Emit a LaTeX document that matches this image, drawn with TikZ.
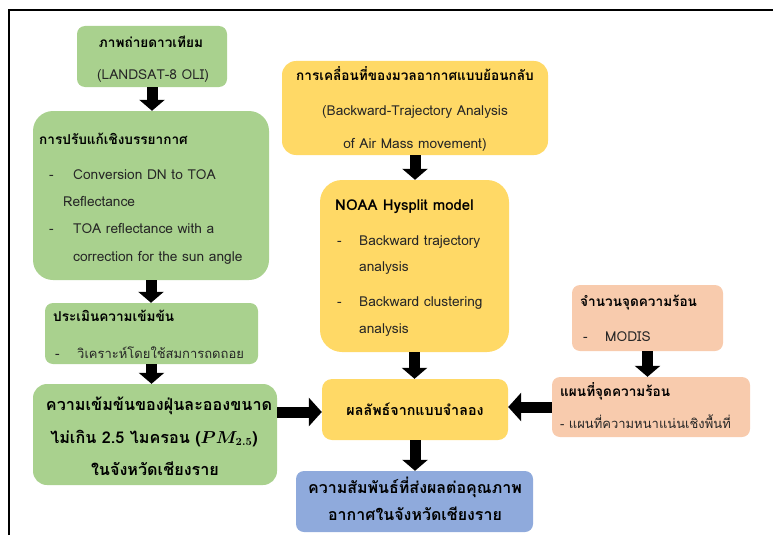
\documentclass[tikz,border=0pt]{standalone}
\usepackage{fontspec}
\usepackage{bm}
\setmainfont{Loma}[Script=Thai]
\usetikzlibrary{arrows.meta}
\definecolor{gfill}{HTML}{A9D18E}
\definecolor{yfill}{HTML}{FFD966}
\definecolor{ofill}{HTML}{F8CBAD}
\definecolor{bfill}{HTML}{8FAADC}
\definecolor{txtc}{HTML}{262626}
\tikzset{
  box/.style={rectangle, draw=none, inner sep=0pt},
  gbox/.style={box, fill=gfill},
  ybox/.style={box, fill=yfill},
  obox/.style={box, fill=ofill},
  bbox/.style={box, fill=bfill},
  txt/.style={inner sep=0pt, text height=1.2ex, text depth=0pt, text=txtc, font=\fontsize{13.7}{16}\selectfont},
  thtxt/.style={txt, font=\fontsize{13}{16}\selectfont},
  hd/.style={txt, text=black, font=\fontsize{13.6}{16}\selectfont\bfseries},
  big/.style={txt, text=black, font=\fontsize{16.2}{19}\selectfont\bfseries},
  barrowv/.style={line width=11pt, -{Triangle[length=11pt,width=25pt]}},
  barrowh/.style={line width=11pt, -{Triangle[length=13pt,width=28pt]}},
}
\begin{document}
\begin{tikzpicture}[x=1pt,y=-1pt]
\useasboundingbox (0,0) rectangle (773,535);
% frame
\draw[line width=1.6pt] (9,535) -- (9,10) -- (773,10);
% green column
\node[gbox, rounded corners=8pt, minimum width=150pt, minimum height=61pt] (b1) at (152,56.5) {};
\node[hd, anchor=center] (b1t) at (151,44) {ภาพถ่ายดาวเทียม};
\node[txt, anchor=center] (b1s) at (153,76) {(LANDSAT-8 OLI)};
\node[gbox, rounded corners=20pt, minimum width=236pt, minimum height=169pt] (b2) at (151,195.5) {};
\node[hd, anchor=west] (b2t) at (39,141) {การปรับแก้เชิงบรรยากาศ};
\node[txt, anchor=west] (b2d1) at (49,176) {-};
\node[txt, anchor=west] (b2a) at (73,176) {Conversion DN to TOA};
\node[txt, anchor=west] (b2b) at (63,203) {Reflectance};
\node[txt, anchor=west] (b2d2) at (49,230) {-};
\node[txt, anchor=west] (b2c) at (73,230) {TOA reflectance with a};
\node[txt, anchor=west] (b2d) at (73,258) {correction for the sun angle};
\node[gbox, rounded corners=8pt, minimum width=213pt, minimum height=61pt] (b3) at (151.5,333.5) {};
\node[hd, anchor=west] (b3t) at (53,318) {ประเมินความเข้มข้น};
\node[txt, anchor=west] (b3d) at (55,355) {-};
\node[thtxt, anchor=west] (b3a) at (77,355) {วิเคราะห์โดยใช้สมการถดถอย};
\node[gbox, rounded corners=14pt, minimum width=244pt, minimum height=101pt] (b4) at (155,434.5) {};
\node[big, anchor=center] (b4a) at (159,407) {ความเข้มข้นของฝุ่นละอองขนาด};
\node[big, anchor=center] (b4b) at (154,440) {ไม่เกิน 2.5 ไมครอน ($\bm{PM_{2.5}}$)};
\node[big, anchor=center] (b4c) at (155,472) {ในจังหวัดเชียงราย};
% yellow column
\node[ybox, rounded corners=14pt, minimum width=266pt, minimum height=94pt] (y1) at (415,108) {};
\node[hd, anchor=center] (y1t) at (415,77) {การเคลื่อนที่ของมวลอากาศแบบย้อนกลับ};
\node[txt, anchor=center] (y1a) at (415,112) {(Backward-Trajectory Analysis};
\node[txt, anchor=center] (y1b) at (415,145) {of Air Mass movement)};
\node[ybox, rounded corners=22pt, minimum width=189pt, minimum height=172pt] (y2) at (414.5,266) {};
\node[hd, font=\fontsize{15}{18}\selectfont\bfseries, anchor=west] (y2t) at (335,207) {NOAA Hysplit model};
\node[txt, anchor=west] (y2d1) at (337,242) {-};
\node[txt, anchor=west] (y2a) at (359,242) {Backward trajectory};
\node[txt, anchor=west] (y2b) at (359,268) {analysis};
\node[txt, anchor=west] (y2d2) at (337,303) {-};
\node[txt, anchor=west] (y2c) at (359,303) {Backward clustering};
\node[txt, anchor=west] (y2e) at (359,330) {analysis};
\node[ybox, rounded corners=10pt, minimum width=186pt, minimum height=61pt] (res) at (415,409.5) {};
\node[hd, font=\fontsize{14.3}{17}\selectfont\bfseries, anchor=center] (rest) at (415,412) {ผลลัพธ์จากแบบจำลอง};
\node[bbox, rounded corners=8pt, minimum width=237pt, minimum height=61pt] (bl) at (414.5,501.5) {};
\node[big, font=\fontsize{16}{19}\selectfont\bfseries, anchor=center] (bla) at (415,490) {ความสัมพันธ์ที่ส่งผลต่อคุณภาพ};
\node[big, font=\fontsize{16}{19}\selectfont\bfseries, anchor=center] (blb) at (415,517) {อากาศในจังหวัดเชียงราย};
% orange column
\node[obox, rounded corners=8pt, minimum width=151pt, minimum height=66pt] (o1) at (647.5,318) {};
\node[hd, anchor=west] (o1t) at (580,303) {จำนวนจุดความร้อน};
\node[txt, anchor=west] (o1d) at (583,338) {-};
\node[txt, anchor=west] (o1a) at (605,338) {MODIS};
\node[obox, rounded corners=8pt, minimum width=198pt, minimum height=60pt] (o2) at (651,407) {};
\node[hd, anchor=west] (o2t) at (560,393) {แผนที่จุดความร้อน};
\node[thtxt, anchor=west] (o2a) at (560,425) {- แผนที่ความหนาแน่นเชิงพื้นที่};
% arrows
\draw[barrowv] (b1.south) -- (b1.south |- b2.north);
\draw[barrowv] (b2.south) -- (b2.south |- b3.north);
\draw[barrowv] (b3.south) -- (b3.south |- b4.north);
\draw[barrowv] (y1.south) -- (y1.south |- y2.north);
\draw[barrowv] (y2.south) -- (y2.south |- res.north);
\draw[barrowv] (res.south) -- (res.south |- bl.north);
\draw[barrowv] (o1.south) -- (o1.south |- o2.north);
\draw[barrowh] (b4.east |- 0,412) -- (res.west |- 0,412);
\draw[barrowh] (o2.west) -- (o2.west -| res.east);
\end{tikzpicture}
\end{document}
